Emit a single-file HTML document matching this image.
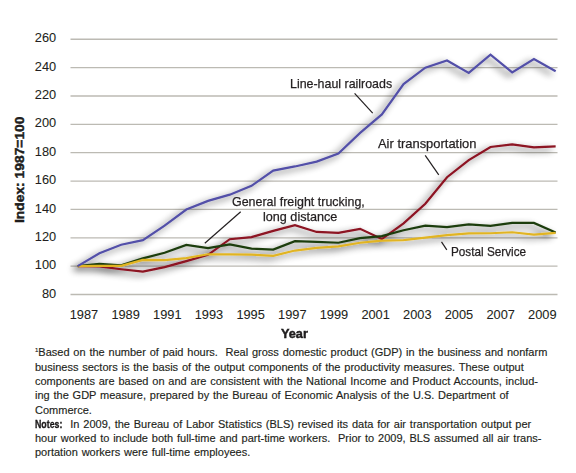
<!DOCTYPE html>
<html><head><meta charset="utf-8">
<style>
html,body{margin:0;padding:0;background:#fff;}
body{width:576px;height:473px;position:relative;overflow:hidden;font-family:"Liberation Sans",sans-serif;color:#231f20;}
svg{position:absolute;left:0;top:0;}
.yl{position:absolute;left:0;width:56.5px;text-align:right;font-size:12.2px;line-height:16px;}
.xl{position:absolute;top:306px;width:40px;text-align:center;font-size:12.2px;line-height:16px;}
.lab{position:absolute;white-space:nowrap;-webkit-text-stroke:0.25px #231f20;}
.ax{-webkit-text-stroke:0.08px #231f20;}
.yt{position:absolute;font-weight:bold;font-size:12.5px;white-space:nowrap;transform-origin:0 0;}
.fn{position:absolute;left:35px;top:343.4px;font-size:11px;line-height:14.29px;word-spacing:0.77px;-webkit-text-stroke:0.15px #231f20;white-space:nowrap;transform-origin:0 0;}
.fn div{}
</style></head><body>
<svg width="576" height="473" viewBox="0 0 576 473">
<defs>
<filter id="sh" x="-20%" y="-20%" width="140%" height="140%">
<feGaussianBlur in="SourceAlpha" stdDeviation="3.6"/>
<feOffset dx="-4" dy="3" result="b"/>
<feComponentTransfer><feFuncA type="linear" slope="0.7"/></feComponentTransfer>
<feMerge><feMergeNode/><feMergeNode in="SourceGraphic"/></feMerge>
</filter>
</defs>
<g stroke="#bcbab3" stroke-width="1.3" fill="none">
<line x1="70.5" y1="39.26" x2="557.5" y2="39.26"/>
<line x1="70.5" y1="67.62" x2="557.5" y2="67.62"/>
<line x1="70.5" y1="95.98" x2="557.5" y2="95.98"/>
<line x1="70.5" y1="124.34" x2="557.5" y2="124.34"/>
<line x1="70.5" y1="152.70" x2="557.5" y2="152.70"/>
<line x1="70.5" y1="181.06" x2="557.5" y2="181.06"/>
<line x1="70.5" y1="209.42" x2="557.5" y2="209.42"/>
<line x1="70.5" y1="237.78" x2="557.5" y2="237.78"/>
<line x1="70.5" y1="266.14" x2="557.5" y2="266.14"/>
<line x1="70.5" y1="294.50" x2="557.5" y2="294.50"/>
</g>
<g fill="none" stroke-width="2.2" stroke-linejoin="miter" filter="url(#sh)">
<path d="M77.70,266.14 L99.43,266.42 L121.15,269.26 L142.88,271.67 L164.60,267.13 L186.32,261.18 L208.05,254.80 L229.78,239.20 L251.50,237.07 L273.23,230.83 L294.95,225.16 L316.68,231.97 L338.40,232.82 L360.12,228.85 L381.85,239.06 L403.57,223.32 L425.30,203.75 L447.03,177.23 L468.75,160.07 L490.48,147.03 L512.20,144.33 L533.93,147.31 L555.65,146.46" stroke="#8c1222"/>
<path d="M77.70,266.14 L99.43,263.87 L121.15,265.29 L142.88,258.34 L164.60,252.81 L186.32,244.87 L208.05,248.13 L229.78,244.30 L251.50,248.56 L273.23,249.55 L294.95,241.18 L316.68,241.89 L338.40,242.74 L360.12,238.06 L381.85,236.08 L403.57,230.26 L425.30,225.59 L447.03,227.14 L468.75,224.45 L490.48,225.87 L512.20,222.89 L533.93,222.89 L555.65,232.39" stroke="#1c3d0c"/>
<path d="M77.70,266.14 L99.43,265.86 L121.15,265.86 L142.88,259.90 L164.60,260.04 L186.32,258.20 L208.05,254.23 L229.78,254.37 L251.50,254.65 L273.23,255.79 L294.95,250.54 L316.68,247.85 L338.40,246.29 L360.12,242.74 L381.85,240.62 L403.57,240.05 L425.30,237.64 L447.03,235.09 L468.75,233.38 L490.48,233.24 L512.20,232.25 L533.93,234.66 L555.65,232.82" stroke="#e1b424"/>
<path d="M77.70,266.14 L99.43,253.24 L121.15,244.73 L142.88,240.19 L164.60,225.59 L186.32,209.56 L208.05,200.91 L229.78,194.67 L251.50,185.88 L273.23,170.57 L294.95,166.45 L316.68,161.63 L338.40,153.55 L360.12,132.85 L381.85,114.41 L403.57,84.07 L425.30,67.62 L447.03,60.53 L468.75,72.87 L490.48,54.57 L512.20,72.44 L533.93,59.11 L555.65,71.31" stroke="#5250a8"/>
</g>
<g stroke="#231f20" stroke-width="1.2">
<line x1="354.6" y1="93.3" x2="372.7" y2="113.1"/>
<line x1="425.2" y1="155.4" x2="438.75" y2="174.8"/>
<line x1="240.7" y1="211.8" x2="204.8" y2="243.3"/>
<line x1="441.5" y1="241.8" x2="446.8" y2="249.8"/>
</g>
</svg>
<div class="lab ax" style="left:34.82px;top:31.38px;font-size:12.8px;line-height:14.71px;transform:scaleX(1.0000);transform-origin:0 0;">260</div>
<div class="lab ax" style="left:34.82px;top:59.74px;font-size:12.8px;line-height:14.71px;transform:scaleX(1.0000);transform-origin:0 0;">240</div>
<div class="lab ax" style="left:34.82px;top:88.10px;font-size:12.8px;line-height:14.71px;transform:scaleX(1.0000);transform-origin:0 0;">220</div>
<div class="lab ax" style="left:34.82px;top:116.46px;font-size:12.8px;line-height:14.71px;transform:scaleX(1.0000);transform-origin:0 0;">200</div>
<div class="lab ax" style="left:34.82px;top:144.82px;font-size:12.8px;line-height:14.71px;transform:scaleX(1.0000);transform-origin:0 0;">180</div>
<div class="lab ax" style="left:34.82px;top:173.18px;font-size:12.8px;line-height:14.71px;transform:scaleX(1.0000);transform-origin:0 0;">160</div>
<div class="lab ax" style="left:34.82px;top:201.54px;font-size:12.8px;line-height:14.71px;transform:scaleX(1.0000);transform-origin:0 0;">140</div>
<div class="lab ax" style="left:34.82px;top:229.90px;font-size:12.8px;line-height:14.71px;transform:scaleX(1.0000);transform-origin:0 0;">120</div>
<div class="lab ax" style="left:34.82px;top:258.26px;font-size:12.8px;line-height:14.71px;transform:scaleX(1.0000);transform-origin:0 0;">100</div>
<div class="lab ax" style="left:41.99px;top:286.62px;font-size:12.8px;line-height:14.71px;transform:scaleX(1.0000);transform-origin:0 0;">80</div>
<div class="lab ax" style="left:69.71px;top:308.42px;font-size:12.8px;line-height:14.71px;transform:scaleX(1.0000);transform-origin:0 0;">1987</div>
<div class="lab ax" style="left:111.38px;top:308.42px;font-size:12.8px;line-height:14.71px;transform:scaleX(1.0000);transform-origin:0 0;">1989</div>
<div class="lab ax" style="left:153.05px;top:308.42px;font-size:12.8px;line-height:14.71px;transform:scaleX(1.0000);transform-origin:0 0;">1991</div>
<div class="lab ax" style="left:194.72px;top:308.42px;font-size:12.8px;line-height:14.71px;transform:scaleX(1.0000);transform-origin:0 0;">1993</div>
<div class="lab ax" style="left:236.39px;top:308.42px;font-size:12.8px;line-height:14.71px;transform:scaleX(1.0000);transform-origin:0 0;">1995</div>
<div class="lab ax" style="left:278.06px;top:308.42px;font-size:12.8px;line-height:14.71px;transform:scaleX(1.0000);transform-origin:0 0;">1997</div>
<div class="lab ax" style="left:319.73px;top:308.42px;font-size:12.8px;line-height:14.71px;transform:scaleX(1.0000);transform-origin:0 0;">1999</div>
<div class="lab ax" style="left:361.40px;top:308.42px;font-size:12.8px;line-height:14.71px;transform:scaleX(1.0000);transform-origin:0 0;">2001</div>
<div class="lab ax" style="left:403.07px;top:308.42px;font-size:12.8px;line-height:14.71px;transform:scaleX(1.0000);transform-origin:0 0;">2003</div>
<div class="lab ax" style="left:444.74px;top:308.42px;font-size:12.8px;line-height:14.71px;transform:scaleX(1.0000);transform-origin:0 0;">2005</div>
<div class="lab ax" style="left:486.41px;top:308.42px;font-size:12.8px;line-height:14.71px;transform:scaleX(1.0000);transform-origin:0 0;">2007</div>
<div class="lab ax" style="left:528.08px;top:308.42px;font-size:12.8px;line-height:14.71px;transform:scaleX(1.0000);transform-origin:0 0;">2009</div>

<div class="lab" style="left:290.40px;top:77.13px;font-size:13.0px;line-height:14.94px;transform:scaleX(0.9549);transform-origin:0 0;">Line-haul railroads</div>
<div class="lab" style="left:377.90px;top:137.34px;font-size:13.0px;line-height:14.94px;transform:scaleX(0.9940);transform-origin:0 0;">Air transportation</div>
<div class="lab" style="left:232.10px;top:194.84px;font-size:13.0px;line-height:14.94px;transform:scaleX(0.9574);transform-origin:0 0;">General freight trucking,</div>
<div class="lab" style="left:262.50px;top:209.74px;font-size:13.0px;line-height:14.94px;transform:scaleX(0.9708);transform-origin:0 0;">long distance</div>
<div class="lab" style="left:451.40px;top:244.94px;font-size:13.0px;line-height:14.94px;transform:scaleX(0.9029);transform-origin:0 0;">Postal Service</div>
<div class="lab" style="left:280.80px;top:326.28px;font-size:13.5px;line-height:15.51px;transform:scaleX(0.9421);transform-origin:0 0;-webkit-text-stroke:0.45px #111;font-weight:bold;">Year</div>
<div class="lab" style="left:12.54px;top:222.80px;font-size:13.0px;line-height:14.94px;font-weight:bold;-webkit-text-stroke:0.4px #111;transform:rotate(-90deg) scaleX(1.0639);transform-origin:0 0;">Index: 1987=100</div>
<div class="fn">
<div><span style="font-size:6px;vertical-align:4px">1</span>Based on the number of paid hours.&nbsp; Real gross domestic product (GDP) in the business and nonfarm</div>
<div>business sectors is the basis of the output components of the productivity measures. These output</div>
<div>components are based on and are consistent with the National Income and Product Accounts, includ-</div>
<div>ing the GDP measure, prepared by the Bureau of Economic Analysis of the U.S. Department of</div>
<div>Commerce.</div>
<div><b style="display:inline-block;transform:scaleX(0.8);transform-origin:0 0;margin-right:-6.6px;-webkit-text-stroke:0.3px #000">Notes:</b>&nbsp; In 2009, the Bureau of Labor Statistics (BLS) revised its data for air transportation output per</div>
<div>hour worked to include both full-time and part-time workers.&nbsp; Prior to 2009, BLS assumed all air trans-</div>
<div>portation workers were full-time employees.</div>
</div>
</body></html>
